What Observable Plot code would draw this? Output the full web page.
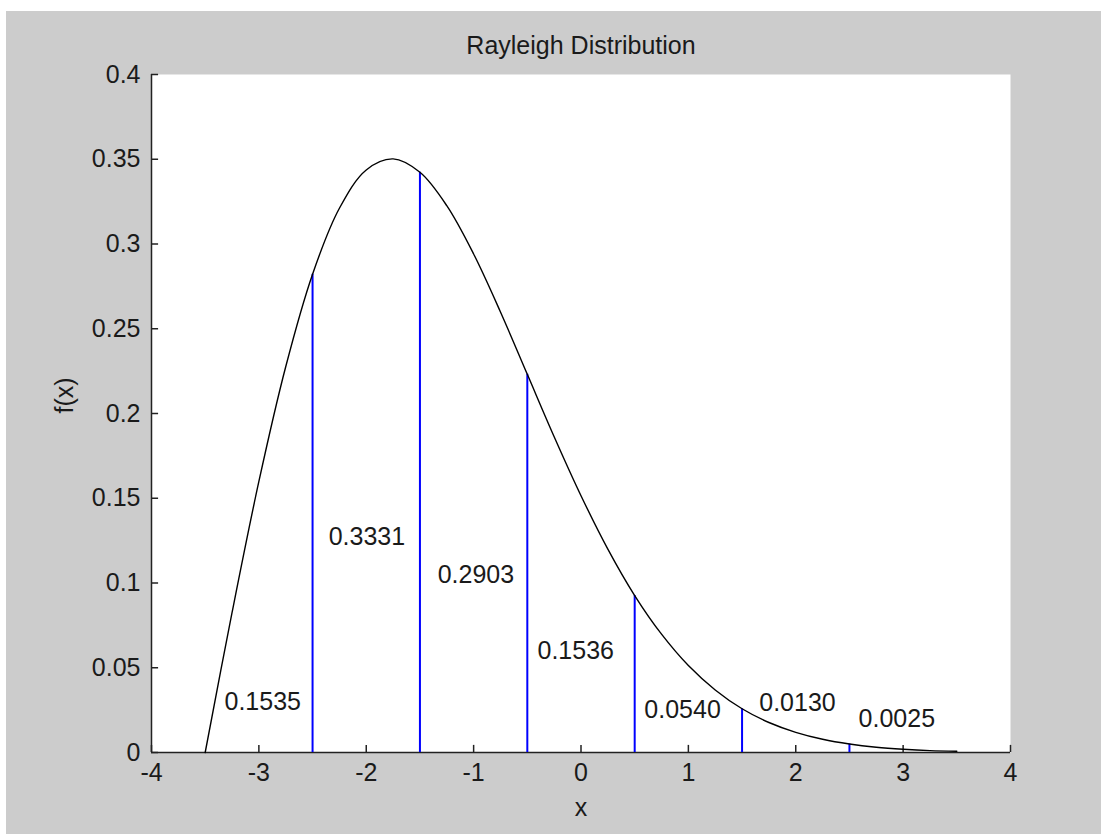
<!DOCTYPE html>
<html>
<head>
<meta charset="utf-8">
<script src="https://cdn.jsdelivr.net/npm/d3@7"></script>
<script src="https://cdn.jsdelivr.net/npm/@observablehq/plot@0.6"></script>
<style>
  html, body { margin: 0; padding: 0; background: #ffffff; }
  #wrap { position: relative; width: 1101px; height: 834px; overflow: hidden; }
  #gray { position: absolute; left: 6px; top: 11px; right: 0; bottom: 0; background: #cccccc; }
  #chart { position: absolute; left: 0; top: 0; }
</style>
</head>
<body>
<div id="wrap"><div id="gray"></div><div id="chart"></div></div>
<script>
// Curve f(x)
const curveX = [-3.5,-3.25,-3,-2.75,-2.5,-2.25,-2,-1.75,-1.5,-1.25,-1,-0.75,-0.5,-0.25,0,0.25,0.5,0.75,1,1.25,1.5,1.75,2,2.25,2.5,2.75,3,3.25,3.5];
const curveY = [0,0.0825,0.1599,0.2276,0.2822,0.3211,0.3437,0.3502,0.3423,0.3226,0.2941,0.2599,0.2231,0.1863,0.1515,0.1200,0.0926,0.0698,0.0513,0.0369,0.0258,0.0177,0.0119,0.0078,0.0050,0.0031,0.0019,0.0011,0.0007];

// Blue interval boundaries and their heights
const boundX = [-2.5,-1.5,-0.5,0.5,1.5,2.5];
const boundY = [0.2822,0.3423,0.2231,0.0926,0.0258,0.0050];

// Probability labels
const probText = ["0.1535","0.3331","0.2903","0.1536","0.0540","0.0130","0.0025"];
const probX = [-3.32,-2.35,-1.335,-0.405,0.59,1.66,2.585];
const probY = [0.0295,0.1274,0.105,0.0597,0.0248,0.029,0.0199];

const xTicks = [-4,-3,-2,-1,0,1,2,3,4];
const yTicks = [0,0.05,0.1,0.15,0.2,0.25,0.3,0.35,0.4];
const yTickLabels = ["0","0.05","0.1","0.15","0.2","0.25","0.3","0.35","0.4"];

const titleText = "Rayleigh Distribution";
const xLabel = "x";
const yLabel = "f(x)";

const curve = curveX.map((x, i) => ({x, y: curveY[i]}));
const bounds = boundX.map((x, i) => ({x, y: boundY[i]}));
const probs = probText.map((t, i) => ({t, x: probX[i], y: probY[i]}));

const FONT = "Liberation Sans, Arial, sans-serif";
const FS = 25;
const tickLenX = 0.0042; // inward tick length (y units)
const tickLenY = 0.066;  // inward tick length (x units)

const chart = Plot.plot({
  width: 1101,
  height: 834,
  marginLeft: 151,
  marginRight: 91,
  marginTop: 74,
  marginBottom: 82,
  style: {background: "transparent", fontFamily: FONT, fontSize: FS + "px", color: "#111"},
  x: {domain: [-4, 4]},
  y: {domain: [0, 0.4]},
  marks: [
    Plot.frame({fill: "white", stroke: "none"}),
    // inward ticks
    Plot.ruleX(xTicks, {x: d => d, y1: 0, y2: tickLenX, stroke: "#222", strokeWidth: 1.5}),
    Plot.ruleY(yTicks, {y: d => d, x1: -4, x2: -4 + tickLenY, stroke: "#222", strokeWidth: 1.5}),
    // axis lines
    Plot.ruleY([0], {x1: -4, x2: 4, stroke: "#222", strokeWidth: 1.5}),
    Plot.ruleX([-4], {y1: 0, y2: 0.4, stroke: "#222", strokeWidth: 1.5}),
    Plot.axisX(xTicks, {tickSize: 0, tickPadding: 11, tickFormat: d => String(d), label: null, fontSize: FS, fill: "#1a1a1a"}),
    Plot.axisY(yTicks, {tickSize: 0, tickPadding: 11, tickFormat: (d, i) => yTickLabels[i], label: null, fontSize: FS, fill: "#1a1a1a"}),
    // blue interval lines
    Plot.ruleX(bounds, {x: "x", y1: 0, y2: "y", stroke: "#0000ff", strokeWidth: 2}),
    // curve
    Plot.line(curve, {x: "x", y: "y", stroke: "black", strokeWidth: 1.4, curve: "catmull-rom"}),
    // probability labels
    Plot.text(probs, {x: "x", y: "y", text: "t", textAnchor: "start", lineAnchor: "middle", fontSize: FS, fill: "#1a1a1a"}),
    // title and axis labels
    Plot.text([titleText], {frameAnchor: "top", dy: -29, lineAnchor: "middle", fontSize: FS, fill: "#1a1a1a"}),
    Plot.text([xLabel], {frameAnchor: "bottom", dy: 55, lineAnchor: "middle", fontSize: FS, fill: "#1a1a1a"}),
    Plot.text([yLabel], {frameAnchor: "left", dx: -87, rotate: -90, lineAnchor: "middle", fontSize: FS, fill: "#1a1a1a"})
  ]
});
document.getElementById("chart").appendChild(chart);
</script>
</body>
</html>
